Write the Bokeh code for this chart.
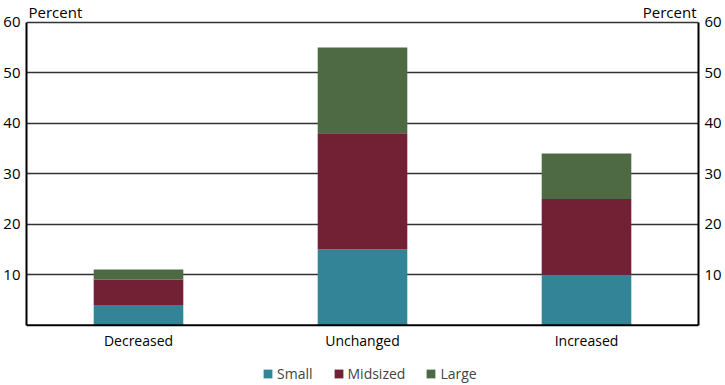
from bokeh.plotting import figure
from bokeh.models import (FactorRange, Range1d, LinearAxis, FixedTicker, Label,
                          Legend, LegendItem, Span, ColumnDataSource)
from bokeh.core.properties import value
from bokeh.embed import file_html
from bokeh.resources import INLINE

categories = ["Decreased", "Unchanged", "Increased"]
small = [4, 15, 10]
midsized = [5, 23, 15]
large = [2, 17, 9]
series = ["Small", "Midsized", "Large"]
colors = ["#338497", "#722033", "#4E6A45"]
y_ticks = [10, 20, 30, 40, 50, 60]
baseline = [0, 0, 0]

FONT = "Open Sans"

p = figure(x_range=FactorRange(*categories, range_padding=0.0), y_range=Range1d(-11.76, 64.3),
           width=724, height=384, output_backend="svg", toolbar_location=None,
           title=None, x_axis_location=None,
           min_border_top=0, min_border_bottom=0, min_border_left=0, min_border_right=0)

data = {"cat": categories, "Small": small, "Midsized": midsized, "Large": large}
renderers = p.vbar_stack(series, x="cat", width=0.4, source=data, color=colors,
                         line_color=None)

p.outline_line_color = None
p.xgrid.grid_line_color = None
p.ygrid.ticker = FixedTicker(ticks=y_ticks)
p.ygrid.grid_line_color = "#333333"
p.ygrid.grid_line_width = 1.3

p.yaxis[0].ticker = FixedTicker(ticks=y_ticks)
ra = LinearAxis(ticker=FixedTicker(ticks=y_ticks))
p.add_layout(ra, "right")

for ax in p.yaxis:
    ax.bounds = (0, 60)
    ax.axis_line_color = "black"
    ax.axis_line_width = 2
    ax.major_tick_line_color = None
    ax.minor_tick_line_color = None
    ax.major_label_text_font = FONT
    ax.major_label_text_font_size = "15px"
    ax.major_label_text_color = "black"
    ax.major_label_standoff = 0

# category axis line and labels
p.add_layout(Span(location=0, dimension="width", line_color="black", line_width=2))
lab_src = ColumnDataSource(dict(cat=categories, y=baseline, text=categories))
p.text(x="cat", y="y", text="text", source=lab_src, y_offset=6,
       text_font=value(FONT), text_font_size="14px", text_color="black",
       text_align="center", text_baseline="top")

p.add_layout(Label(x=0, y=60, x_units="data", y_units="data", text="Percent",
                   x_offset=2, y_offset=0, text_font=FONT, text_font_size="15px",
                   text_color="black", text_baseline="bottom", text_align="left"))
p.add_layout(Label(x=3, y=60, x_units="data", y_units="data", text="Percent",
                   x_offset=-2, y_offset=0, text_font=FONT, text_font_size="15px",
                   text_color="black", text_baseline="bottom", text_align="right"))

legend = Legend(items=[LegendItem(label=s, renderers=[r]) for s, r in zip(series, renderers)],
                orientation="horizontal", location=(236, 1),
                glyph_width=11, glyph_height=11, spacing=20, label_standoff=4,
                label_text_font=FONT, label_text_font_size="14px",
                border_line_color=None, background_fill_alpha=0, padding=0, margin=0)
p.add_layout(legend, "center")

open("out.html", "w").write(file_html(p, INLINE))
